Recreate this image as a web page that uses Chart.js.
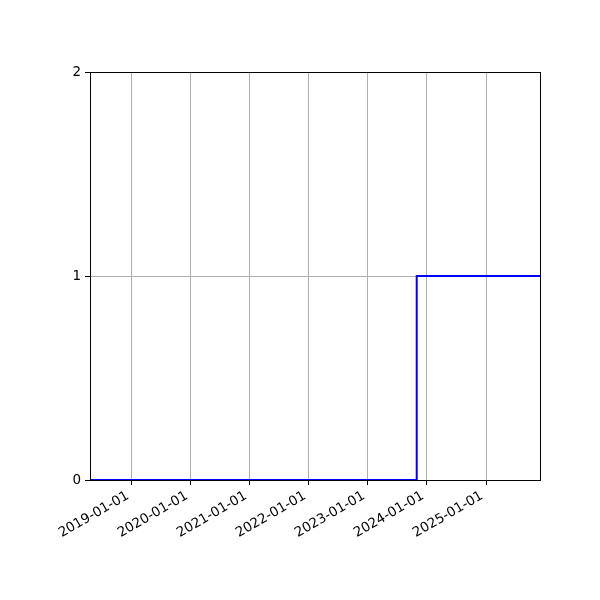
<!DOCTYPE html>
<html>
<head>
<meta charset="utf-8">
<script src="https://cdn.jsdelivr.net/npm/chart.js@4/dist/chart.umd.min.js"></script>
<style>
  html, body { margin: 0; padding: 0; background: #fff; }
</style>
</head>
<body>
<canvas id="chart" width="600" height="600"></canvas>
<script>
// step series: the value jumps at each date
const dates = ["2018-04-17", "2023-10-30", "2025-12-01"];
const values = [0, 1, 1];

// axis range and tick labels
const xRange = ["2018-04-17", "2025-12-01"];
const xTickLabels = ["2019-01-01", "2020-01-01", "2021-01-01", "2022-01-01",
                     "2023-01-01", "2024-01-01", "2025-01-01"];
const yTicks = [0, 1, 2];

const toMs = d => Date.parse(d + "T00:00:00Z");
const fmt = ms => new Date(ms).toISOString().slice(0, 10);

const points = dates.map((d, i) => ({ x: toMs(d), y: values[i] }));

// box round the plot, like matplotlib spines
const frame = {
  id: "frame",
  afterDraw(chart) {
    const a = chart.chartArea, ctx = chart.ctx;
    ctx.save();
    ctx.strokeStyle = "#000";
    ctx.lineWidth = 1;
    ctx.strokeRect(Math.round(a.left) + 0.5, Math.round(a.top) + 0.5,
                   Math.round(a.right - a.left), Math.round(a.bottom - a.top));
    ctx.restore();
  }
};

const font = { family: "'DejaVu Sans', sans-serif", size: 13.5 };

new Chart(document.getElementById("chart"), {
  type: "line",
  data: {
    datasets: [{
      data: points,
      stepped: "before",
      borderColor: "#0000ff",
      borderWidth: 2,
      pointRadius: 0,
      fill: false
    }]
  },
  options: {
    responsive: false,
    animation: false,
    devicePixelRatio: 1,
    layout: { padding: { left: 0, right: 60, top: 72, bottom: 0 } },
    plugins: { legend: { display: false }, tooltip: { enabled: false } },
    scales: {
      x: {
        type: "linear",
        min: toMs(xRange[0]),
        max: toMs(xRange[1]),
        afterBuildTicks(scale) {
          scale.ticks = xTickLabels.map(t => ({ value: toMs(t) }));
        },
        afterFit(scale) { scale.height = 120; },
        ticks: {
          callback: v => fmt(v),
          autoSkip: false,
          minRotation: 30,
          maxRotation: 30,
          padding: 3,
          labelOffset: -4,
          color: "#000",
          font
        },
        grid: { color: "#b0b0b0", lineWidth: 1, tickColor: "#000", tickLength: 5, tickWidth: 1 },
        border: { color: "#000", width: 1 }
      },
      y: {
        type: "linear",
        min: yTicks[0],
        max: yTicks[yTicks.length - 1],
        afterBuildTicks(scale) {
          scale.ticks = yTicks.map(v => ({ value: v }));
        },
        afterFit(scale) { scale.width = 90; },
        ticks: { color: "#000", padding: 4, font },
        grid: { color: "#b0b0b0", lineWidth: 1, tickColor: "#000", tickLength: 5, tickWidth: 1 },
        border: { color: "#000", width: 1 }
      }
    }
  },
  plugins: [frame]
});
</script>
</body>
</html>
